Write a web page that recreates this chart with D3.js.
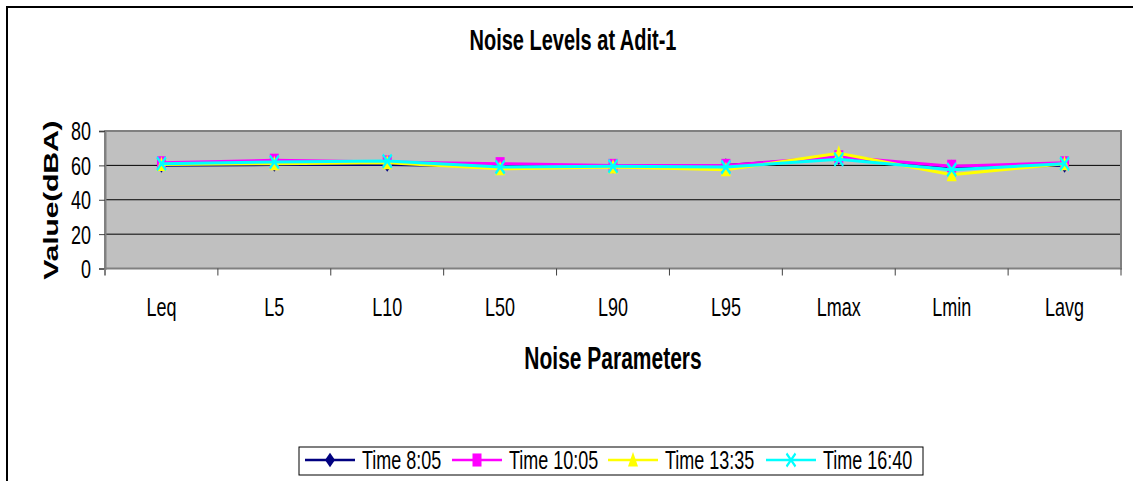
<!DOCTYPE html>
<html>
<head>
<meta charset="utf-8">
<script src="https://cdn.jsdelivr.net/npm/d3@7"></script>
<style>
  html, body { margin: 0; padding: 0; background: #ffffff; }
  svg { display: block; font-family: "Liberation Sans", Arial, sans-serif; }
</style>
</head>
<body>
<div id="chart"></div>
<script>
// chart data
const categories = ["Leq", "L5", "L10", "L50", "L90", "L95", "Lmax", "Lmin", "Lavg"];
const seriesNames = ["Time 8:05", "Time 10:05", "Time 13:35", "Time 16:40"];
const time0805 = [60, 60.5, 60.5, 59.5, 59.5, 60, 64.5, 59, 60];
const time1005 = [61.5, 63, 62, 61, 60, 60, 65, 59.5, 61.5];
const time1335 = [60.5, 61, 61.5, 58, 59, 57.5, 67, 54.5, 61];
const time1640 = [61, 62, 62.5, 59, 59.5, 59, 63.5, 57.5, 61];
const yTicks = [0, 20, 40, 60, 80];

const seriesValues = [time0805, time1005, time1335, time1640];
const colors = ["#000080", "#ff00ff", "#ffff00", "#00ffff"];
const markerTypes = ["diamond", "square", "triangle", "x"];

const W = 1133, H = 481;
const sy = 1.45; // picture is stretched vertically

const svg = d3.select("#chart").append("svg")
    .attr("width", W)
    .attr("height", H);

// outer chart frame
svg.append("rect")
    .attr("x", 7).attr("y", 7)
    .attr("width", W + 20).attr("height", H + 20)
    .attr("fill", "#ffffff")
    .attr("stroke", "#000000")
    .attr("stroke-width", 2);

const plot = { left: 105, right: 1121, top: 131, bottom: 268.5 };

const x = d3.scaleBand()
    .domain(categories)
    .range([plot.left, plot.right]);

const y = d3.scaleLinear()
    .domain([0, 80])
    .range([plot.bottom, plot.top]);

// stretched text helper
function label(g, txt, px, py, opts) {
    const t = g.append("text")
        .attr("transform", `translate(${px},${py}) scale(1,${sy})` + (opts.rotate ? ` rotate(${opts.rotate})` : ""))
        .attr("text-anchor", opts.anchor || "middle")
        .attr("font-size", opts.size || 18)
        .attr("font-weight", opts.bold ? "bold" : "normal")
        .attr("fill", "#000000")
        .text(txt);
    if (opts.length) t.attr("textLength", opts.length).attr("lengthAdjust", "spacing");
    return t;
}

// title
label(svg, "Noise Levels at Adit-1", 573, 50, { size: 20, bold: true });

// plot background
svg.append("rect")
    .attr("x", plot.left).attr("y", plot.top)
    .attr("width", plot.right - plot.left)
    .attr("height", plot.bottom - plot.top)
    .attr("fill", "#c0c0c0");

// grid lines
svg.selectAll(".grid-line")
    .data(yTicks.filter(d => d > 0 && d < 80))
    .enter()
    .append("line")
    .attr("class", "grid-line")
    .attr("x1", plot.left).attr("x2", plot.right)
    .attr("y1", d => y(d)).attr("y2", d => y(d))
    .attr("stroke", d => d === 20 ? "#404040" : "#000000")
    .attr("stroke-width", d => d === 20 ? 1.5 : 1);

// plot border
svg.append("rect")
    .attr("x", plot.left).attr("y", plot.top)
    .attr("width", plot.right - plot.left)
    .attr("height", plot.bottom - plot.top)
    .attr("fill", "none")
    .attr("stroke", "#808080")
    .attr("stroke-width", 2);

// y axis
svg.append("g")
    .attr("transform", `translate(${plot.left},0)`)
    .call(d3.axisLeft(y).tickValues(yTicks).tickSize(6).tickFormat(""))
    .call(g => g.select(".domain").attr("stroke", "#808080").attr("stroke-width", 2))
    .call(g => g.selectAll(".tick line").attr("stroke", "#404040"));

yTicks.forEach(v => {
    label(svg, String(v), 91, y(v) + 9.4, { anchor: "end", size: 18 });
});

// x axis tick marks at category boundaries
const boundaries = categories.map(c => x(c) + x.bandwidth());
svg.selectAll(".x-tick")
    .data(boundaries)
    .enter()
    .append("line")
    .attr("class", "x-tick")
    .attr("x1", d => d).attr("x2", d => d)
    .attr("y1", plot.bottom).attr("y2", plot.bottom + 7)
    .attr("stroke", "#404040");
svg.append("line")
    .attr("x1", plot.left).attr("x2", plot.left)
    .attr("y1", plot.bottom).attr("y2", plot.bottom + 7)
    .attr("stroke", "#808080").attr("stroke-width", 2);

categories.forEach(c => {
    label(svg, c, x(c) + x.bandwidth() / 2, 316, { size: 18 });
});

// axis titles
label(svg, "Noise Parameters", 613, 369, { size: 21, bold: true });
label(svg, "Value(dBA)", 58, 200, { size: 21, bold: true, rotate: -90, length: 110 });

// markers
function drawMarker(g, type, color, cx, cy) {
    const m = g.append("g").attr("transform", `translate(${cx},${cy}) scale(1,${sy})`);
    if (type === "diamond") {
        m.append("path").attr("d", "M0,-5L5,0L0,5L-5,0Z").attr("fill", color);
    } else if (type === "square") {
        m.append("rect").attr("x", -4.5).attr("y", -4.5).attr("width", 9).attr("height", 9).attr("fill", color);
    } else if (type === "triangle") {
        m.append("path").attr("d", "M0,-5.5L5,4.5L-5,4.5Z").attr("fill", color);
    } else {
        m.append("path").attr("d", "M-4.5,-4.5L4.5,4.5M4.5,-4.5L-4.5,4.5")
            .attr("stroke", color).attr("stroke-width", 2).attr("fill", "none");
    }
}

const line = d3.line()
    .x((d, i) => x(categories[i]) + x.bandwidth() / 2)
    .y(d => y(d));

seriesValues.forEach((vals, s) => {
    const g = svg.append("g").attr("class", "series");
    g.append("path")
        .datum(vals)
        .attr("fill", "none")
        .attr("stroke", colors[s])
        .attr("stroke-width", 3)
        .attr("d", line);
    vals.forEach((v, i) => {
        drawMarker(g, markerTypes[s], colors[s], x(categories[i]) + x.bandwidth() / 2, y(v));
    });
});

// legend
const legend = svg.append("g");
legend.append("rect")
    .attr("x", 299).attr("y", 447)
    .attr("width", 624).attr("height", 28)
    .attr("fill", "#ffffff")
    .attr("stroke", "#000000")
    .attr("stroke-width", 1);

const legendX = [305, 452, 608, 766];
seriesNames.forEach((name, s) => {
    const lx = legendX[s];
    const ly = 460;
    legend.append("line")
        .attr("x1", lx).attr("x2", lx + 50)
        .attr("y1", ly).attr("y2", ly)
        .attr("stroke", colors[s])
        .attr("stroke-width", 2.5);
    drawMarker(legend, markerTypes[s], colors[s], lx + 25, ly);
    label(legend, name, lx + 57, ly + 9.4, { anchor: "start", size: 18 });
});
</script>
</body>
</html>
